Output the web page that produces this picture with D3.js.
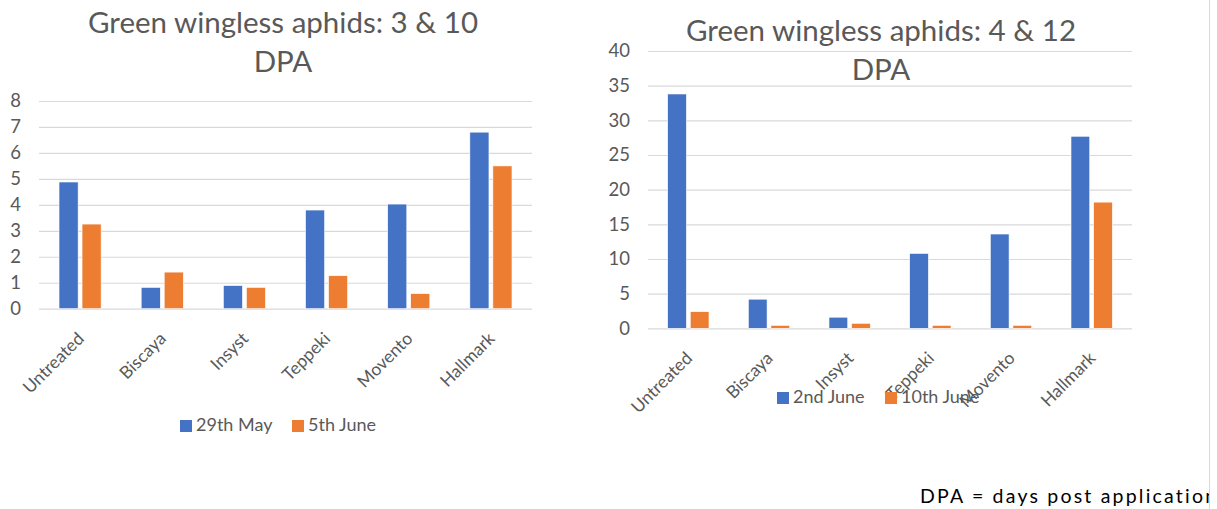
<!DOCTYPE html>
<html>
<head>
<meta charset="utf-8">
<script src="https://cdn.jsdelivr.net/npm/d3@7"></script>
<style>
  body { margin: 0; background: #fff; }
  svg text { font-family: Lato, "Open Sans", sans-serif; }
</style>
</head>
<body>
<div id="container"></div>
<script>
const treatments = ["Untreated", "Biscaya", "Insyst", "Teppeki", "Movento", "Hallmark"]

// first chart: 3 & 10 DPA
const may29 = [4.88, 0.82, 0.89, 3.8, 4.03, 6.8]
const june5 = [3.26, 1.41, 0.82, 1.27, 0.58, 5.5]
const ticksA = [0, 1, 2, 3, 4, 5, 6, 7, 8]

// second chart: 4 & 12 DPA
const june2 = [33.8, 4.2, 1.6, 10.8, 13.6, 27.7]
const june10 = [2.4, 0.43, 0.72, 0.43, 0.43, 18.2]
const ticksB = [0, 5, 10, 15, 20, 25, 30, 35, 40]

const blue = "#4472C4"
const orange = "#ED7D31"
const grey = "#595959"

const width = 1217
const height = 509

const svg = d3.select("#container").append("svg")
    .attr("width", width)
    .attr("height", height)

function drawChart(o) {
    const g = svg.append("g")

    const x0 = d3.scaleBand()
        .domain(treatments)
        .range([o.left, o.right])
    const x1 = d3.scaleBand()
        .domain([0, 1])
        .range([0, x0.bandwidth()])
        .paddingInner(0.17)
        .paddingOuter(0.87)
    const y = d3.scaleLinear()
        .domain([0, d3.max(o.ticks)])
        .range([o.bottom, o.top])

    // grid
    g.append("g")
        .call(d3.axisLeft(y).tickValues(o.ticks).tickSize(-(o.right - o.left)).tickPadding(18))
        .attr("transform", `translate(${o.left},0)`)
        .call(a => a.select(".domain").remove())
        .call(a => a.selectAll("line").attr("stroke", "#d9d9d9").attr("stroke-width", 1.2))
        .call(a => a.selectAll("text").attr("fill", grey).attr("font-size", 18.5))

    const rows = treatments.map((t, i) => ({ name: t, vals: [o.a[i], o.b[i]] }))

    const cell = g.selectAll(".cat")
        .data(rows)
        .enter().append("g")
        .attr("transform", d => `translate(${x0(d.name)},0)`)

    cell.selectAll("rect")
        .data(d => d.vals)
        .enter().append("rect")
        .attr("x", (d, i) => x1(i))
        .attr("width", x1.bandwidth())
        .attr("y", d => y(d))
        .attr("height", d => y(0) - y(d))
        .attr("fill", (d, i) => i === 0 ? blue : orange)
        .attr("stroke", "#fff")
        .attr("stroke-width", 0.6)

    // category labels
    g.selectAll(".xl")
        .data(treatments)
        .enter().append("text")
        .attr("text-anchor", "end")
        .attr("fill", grey)
        .attr("font-size", 17.5)
        .attr("transform", d => `translate(${x0(d) + x0.bandwidth() / 2 + 5},${o.bottom + 31}) rotate(-45)`)
        .text(d => d)

    // title
    o.title.forEach((t, i) => {
        g.append("text")
            .attr("x", o.titleX)
            .attr("y", o.titleY + i * 39)
            .attr("text-anchor", "middle")
            .attr("fill", grey)
            .attr("font-size", 29.5)
            .text(t)
    })

    // legend
    const lg = g.append("g")
    o.legend.forEach((name, i) => {
        lg.append("rect")
            .attr("x", o.legendX[i])
            .attr("y", o.legendY - 11)
            .attr("width", 12)
            .attr("height", 12)
            .attr("fill", i === 0 ? blue : orange)
        lg.append("text")
            .attr("x", o.legendX[i] + 16)
            .attr("y", o.legendY)
            .attr("fill", grey)
            .attr("font-size", 18)
            .text(name)
    })
}

drawChart({
    a: may29, b: june5, ticks: ticksA,
    left: 39, right: 532, top: 101, bottom: 308.7,
    title: ["Green wingless aphids: 3 & 10", "DPA"], titleX: 283, titleY: 33,
    legend: ["29th May", "5th June"], legendX: [180, 292], legendY: 431
})

drawChart({
    a: june2, b: june10, ticks: ticksB,
    left: 648, right: 1132, top: 51, bottom: 328.3,
    title: ["Green wingless aphids: 4 & 12", "DPA"], titleX: 881, titleY: 41,
    legend: ["2nd June", "10th June"], legendX: [777, 885], legendY: 403
})

// right-hand frame and footnote
svg.append("clipPath").attr("id", "clip")
    .append("rect").attr("x", 0).attr("y", 0).attr("width", 1209).attr("height", height)

svg.append("text")
    .attr("clip-path", "url(#clip)")
    .attr("x", 920)
    .attr("y", 503)
    .attr("fill", "#000")
    .attr("font-size", 19.5)
    .attr("letter-spacing", 2.2)
    .text("DPA = days post application")

svg.append("line")
    .attr("x1", 1209.5).attr("x2", 1209.5)
    .attr("y1", 0).attr("y2", height)
    .attr("stroke", "#d9d9d9")
</script>
</body>
</html>
